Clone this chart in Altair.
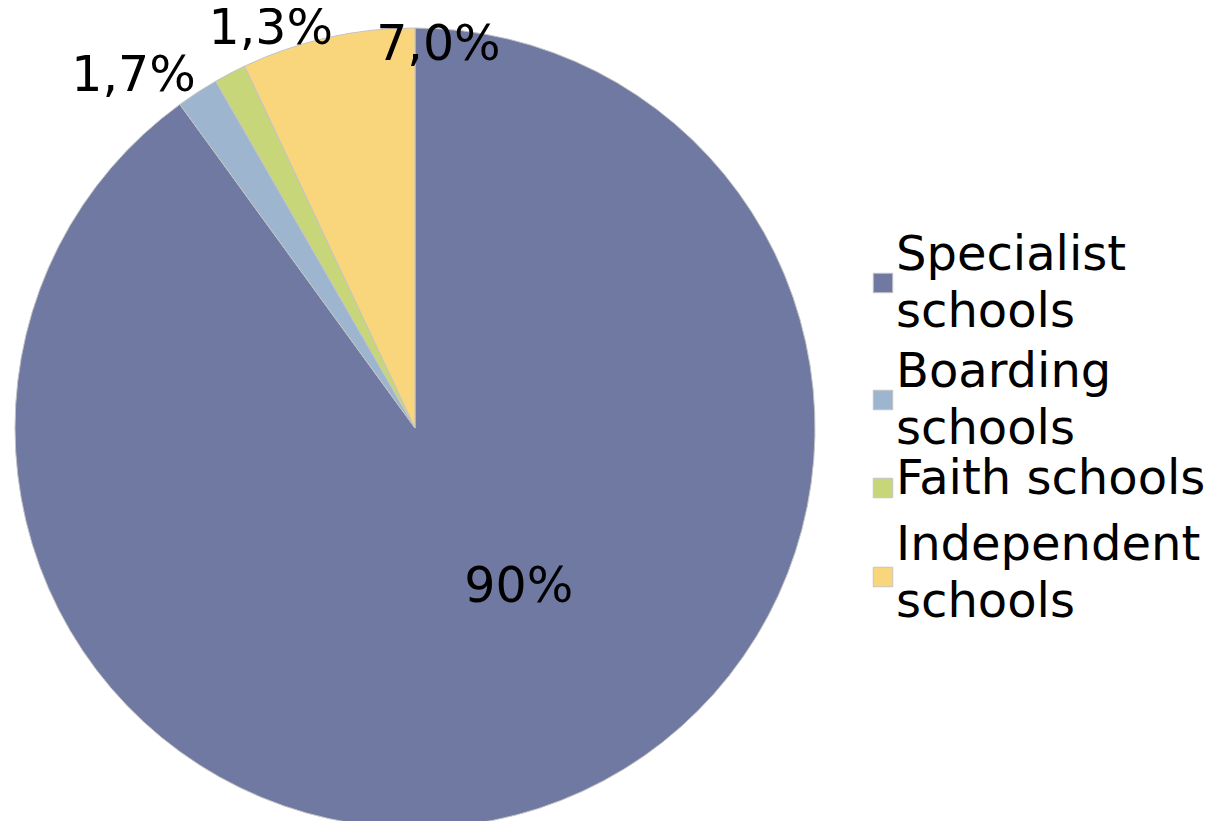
import altair as alt
import pandas as pd

categories = ["Specialist schools", "Boarding schools", "Faith schools", "Independent schools"]
legend_labels = ["Specialist\nschools", "Boarding\nschools", "Faith schools", "Independent\nschools"]
values = [90.0, 1.7, 1.3, 7.0]
value_labels = ["90%", "1,7%", "1,3%", "7,0%"]
colors = ["#6F79A1", "#9DB5CE", "#C8D67A", "#F9D67C"]

df = pd.DataFrame({
    "category": categories,
    "legend": legend_labels,
    "value": values,
    "label": value_labels,
    "order": list(range(len(categories))),
})

FONT = "DejaVu Sans"
CX, CY, R = 407, 420, 400

color_scale = alt.Scale(domain=categories, range=colors)
theta_scale = alt.Scale(domain=[0, 100])

base = alt.Chart(df)

arcs = base.mark_arc(stroke="#c4c4c4", strokeWidth=1).encode(
    theta=alt.Theta("value:Q", stack=True, scale=theta_scale),
    order=alt.Order("order:Q"),
    color=alt.Color("category:N", scale=color_scale, legend=None),
    x=alt.value(CX),
    y=alt.value(CY),
    radius=alt.value(R),
)

label_base = base.transform_window(
    cum="sum(value)", sort=[alt.SortField("order")]
).transform_calculate(mid="datum.cum - datum.value / 2")

# (radius, dx, dy) placement of each slice label
offsets = {
    "Specialist schools": (200, 42, -31),
    "Boarding schools": (420, -53, 0),
    "Faith schools": (420, 50, -27),
    "Independent schools": (420, 115, 27),
}

label_layers = []
for cat, (rad, dx, dy) in offsets.items():
    label_layers.append(
        label_base.transform_filter(alt.datum.category == cat)
        .mark_text(font=FONT, fontSize=49, color="#000000", align="center",
                   baseline="middle", dx=dx, dy=dy)
        .encode(
            theta=alt.Theta("mid:Q", scale=theta_scale, stack=None),
            radius=alt.value(rad),
            x=alt.value(CX),
            y=alt.value(CY),
            text="label:N",
        )
    )

y_leg = alt.Y("category:N", sort=categories, axis=None,
              scale=alt.Scale(type="point", range=[287, 575], padding=0))

# per-entry fine adjustments of the legend: (square dy, text dy)
legend_adjust = {
    "Specialist schools": (-12, -39),
    "Boarding schools": (9, -18),
    "Faith schools": (1, -7),
    "Independent schools": (-6, -37),
}

legend_layers = []
for cat, (sq_dy, tx_dy) in legend_adjust.items():
    sub = base.transform_filter(alt.datum.category == cat)
    legend_layers.append(
        sub.mark_square(size=380, stroke="#c4c4c4", strokeWidth=1, opacity=1, yOffset=sq_dy).encode(
            x=alt.value(875),
            y=y_leg,
            color=alt.Color("category:N", scale=color_scale, legend=None),
        )
    )
    legend_layers.append(
        sub.mark_text(font=FONT, fontSize=48, align="left", baseline="middle",
                      lineBreak="\n", lineHeight=57, dy=tx_dy, color="#000000").encode(
            x=alt.value(888),
            y=y_leg,
            text="legend:N",
        )
    )

chart = alt.layer(arcs, *label_layers, *legend_layers).properties(
    width=1201, height=813, padding=0,
    autosize=alt.AutoSizeParams(type="none"),
).configure_view(stroke=None)

chart.save("out.html", embed_options={"renderer": "svg", "actions": False})
